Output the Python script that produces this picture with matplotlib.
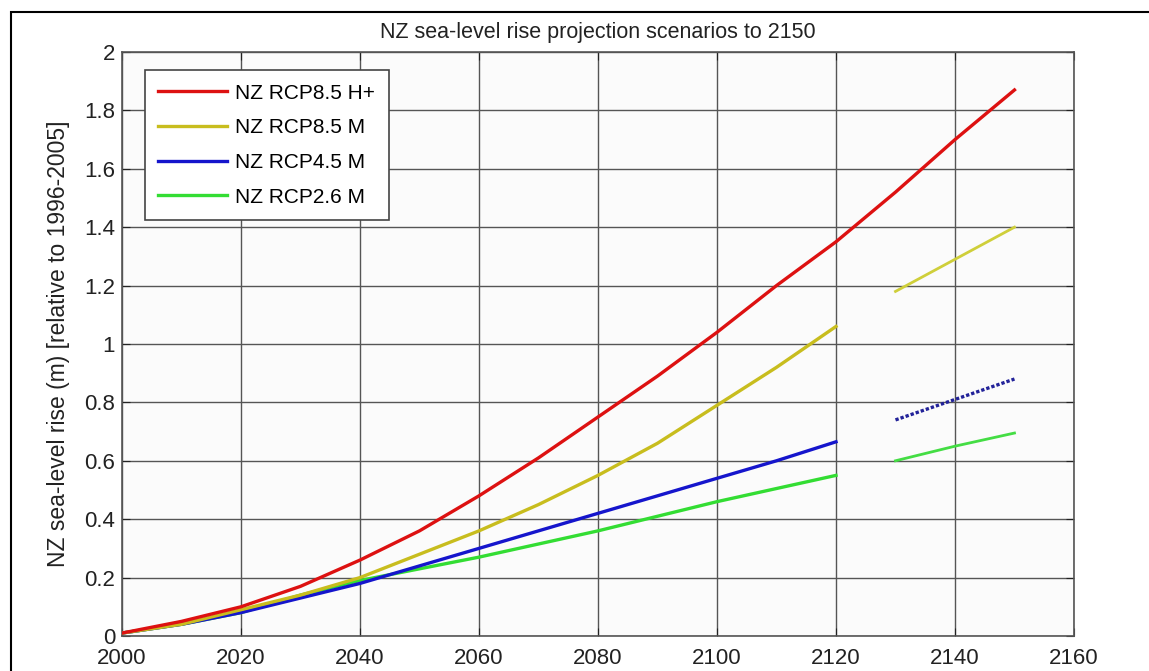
import matplotlib.pyplot as plt
from matplotlib.patches import Rectangle

plt.rcParams['font.family'] = ['Liberation Sans', 'DejaVu Sans']

# Projection data (m, relative to 1996-2005)
years = [2000, 2010, 2020, 2030, 2040, 2050, 2060, 2070, 2080, 2090, 2100, 2110, 2120]
years_ext = [2130, 2140, 2150]

rcp85_hplus = [0.01, 0.05, 0.10, 0.17, 0.26, 0.36, 0.48, 0.61, 0.75, 0.89, 1.04, 1.20, 1.35]
rcp85_hplus_ext = [1.52, 1.70, 1.87]

rcp85_m = [0.01, 0.04, 0.09, 0.14, 0.20, 0.28, 0.36, 0.45, 0.55, 0.66, 0.79, 0.92, 1.06]
rcp85_m_ext = [1.18, 1.29, 1.40]

rcp45_m = [0.01, 0.04, 0.08, 0.13, 0.18, 0.24, 0.30, 0.36, 0.42, 0.48, 0.54, 0.60, 0.665]
rcp45_m_ext = [0.74, 0.81, 0.88]

rcp26_m = [0.01, 0.04, 0.08, 0.14, 0.19, 0.23, 0.27, 0.315, 0.36, 0.41, 0.46, 0.505, 0.55]
rcp26_m_ext = [0.60, 0.65, 0.695]

labels = ['NZ RCP8.5 H+', 'NZ RCP8.5 M', 'NZ RCP4.5 M', 'NZ RCP2.6 M']
colors = ['#dd1111', '#c8bd1e', '#1515cc', '#33dd33']

fig = plt.figure(figsize=(11.49, 6.71), dpi=100)
ax = fig.add_axes([0.1062, 0.0522, 0.8285, 0.8703])
ax.set_facecolor('#fbfbfb')

# outer frame (cropped at right and bottom)
fig.add_artist(Rectangle((11 / 1149, -0.1), 1.2, 1 - 12 / 671 + 0.1,
                         transform=fig.transFigure, fill=False,
                         edgecolor='black', linewidth=1.5, clip_on=False))

lw = 2.4
# red is continuous through to 2150
ax.plot(years + years_ext, rcp85_hplus + rcp85_hplus_ext, color=colors[0], lw=lw,
        label=labels[0], zorder=5)
ax.plot(years, rcp85_m, color=colors[1], lw=lw, label=labels[1], zorder=4)
ax.plot(years, rcp45_m, color=colors[2], lw=lw, label=labels[2], zorder=3)
ax.plot(years, rcp26_m, color=colors[3], lw=lw, label=labels[3], zorder=2)

# extensions after the gap
ax.plot(years_ext, rcp85_m_ext, color='#cfcf3a', lw=2.0, zorder=4)
ax.plot(years_ext, rcp45_m_ext, color='#222299', lw=2.4, ls=(0, (1, 0.6)), zorder=3)
ax.plot(years_ext, rcp26_m_ext, color='#44dd44', lw=2.0, zorder=2)

ax.set_xlim(2000, 2160)
ax.set_ylim(0, 2)
ax.set_xticks(range(2000, 2161, 20))
ax.set_yticks([0, 0.2, 0.4, 0.6, 0.8, 1, 1.2, 1.4, 1.6, 1.8, 2])
ax.set_yticklabels(['0', '0.2', '0.4', '0.6', '0.8', '1', '1.2', '1.4', '1.6', '1.8', '2'])
ax.tick_params(direction='in', length=6, labelsize=16, colors='#222222',
               top=True, right=True, pad=5)
ax.tick_params(axis='x', pad=9)
ax.grid(True, color='#555555', linewidth=1.0)
for s in ax.spines.values():
    s.set_color('#555555')
    s.set_linewidth(1.2)

ax.set_title('NZ sea-level rise projection scenarios to 2150', fontsize=15.5,
             color='#222222', pad=10)
ax.set_ylabel('NZ sea-level rise (m) [relative to 1996-2005]', fontsize=16.5,
              color='#222222', labelpad=10)

leg = ax.legend(loc='upper left', bbox_to_anchor=(0.024, 0.969), fontsize=15,
                frameon=True, fancybox=False, handlelength=3.3, borderaxespad=0,
                labelspacing=0.75, borderpad=0.65, handletextpad=0.4)
leg.get_frame().set_edgecolor('#444444')
leg.get_frame().set_linewidth(1.2)
leg.get_frame().set_facecolor('white')
leg.get_frame().set_alpha(1)

fig.savefig('out.png', dpi=100)
